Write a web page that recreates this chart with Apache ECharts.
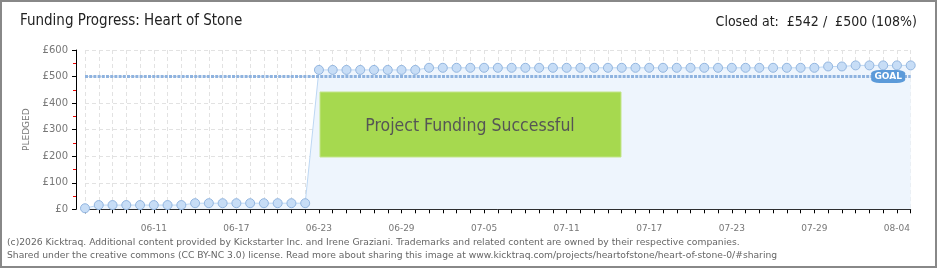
<!DOCTYPE html>
<html><head><meta charset="utf-8">
<script src="https://cdn.jsdelivr.net/npm/echarts@6/dist/echarts.min.js"></script>
<style>html,body{margin:0;padding:0;background:#fff}#c{width:940px;height:270px}</style>
</head><body><div id="c"></div>
<script>
const dates = ['06-06','06-07','06-08','06-09','06-10','06-11','06-12','06-13','06-14','06-15','06-16','06-17','06-18','06-19','06-20','06-21','06-22','06-23','06-24','06-25','06-26','06-27','06-28','06-29','06-30',
'07-01','07-02','07-03','07-04','07-05','07-06','07-07','07-08','07-09','07-10','07-11','07-12','07-13','07-14','07-15','07-16','07-17','07-18','07-19','07-20','07-21','07-22','07-23','07-24','07-25','07-26','07-27','07-28','07-29','07-30','07-31',
'08-01','08-02','08-03','08-04','08-05'];
const pledged = [4,16,16,16,16,16,16,16,23,23,23,23,23,23,23,23,23,
525,525,525,525,525,525,525,525,
533,533,533,533,533,533,533,533,533,533,533,533,533,533,533,533,533,533,533,533,533,533,533,533,533,533,533,533,533,
538,538,542,542,542,542,542];
const goal = 500;
const yTicks = [0,100,200,300,400,500,600];
const titleText = 'Funding Progress: Heart of Stone';
const closedText = 'Closed at:  £542 /  £500 (108%)';
const footer1 = '(c)2026 Kicktraq. Additional content provided by Kickstarter Inc. and Irene Graziani. Trademarks and related content are owned by their respective companies.';
const footer2 = 'Shared under the creative commons (CC BY-NC 3.0) license. Read more about sharing this image at www.kicktraq.com/projects/heartofstone/heart-of-stone-0/#sharing';

const chart = echarts.init(document.getElementById('c'), null, {renderer:'canvas'});
const lblFont = 'DejaVu Sans';
const headFont = '"DejaVu Sans Condensed", "Liberation Sans Narrow", "Liberation Sans", sans-serif';
chart.setOption({
  animation:false,
  backgroundColor:'#fff',
  grid:{left:85, right:29.3, top:50, bottom:60.7, containLabel:false},
  xAxis:{
    type:'category', data:dates, boundaryGap:false, offset:11,
    axisLine:{lineStyle:{color:'#000', width:1}},
    axisTick:{interval:0, length:4, lineStyle:{color:'#000'}},
    axisLabel:{interval:(i)=> (i-5)%6===0 && i>=5, margin:4, fontSize:9, color:'#777', fontFamily:lblFont},
    splitLine:{show:true, interval:0, lineStyle:{color:'#e2e2e2', type:[4,3]}}
  },
  yAxis:{
    type:'value', min:yTicks[0], max:yTicks[yTicks.length-1], interval:100, offset:9,
    name:'PLEDGED', nameLocation:'middle', nameRotate:90, nameGap:40,
    nameTextStyle:{fontSize:9, color:'#777', fontFamily:lblFont},
    axisLine:{show:true, lineStyle:{color:'#000'}},
    axisTick:{show:true, length:4, lineStyle:{color:'#000'}},
    minorTick:{show:true, splitNumber:2, length:3, lineStyle:{color:'#e00'}},
    axisLabel:{formatter:'£{value}', margin:8, fontSize:10, color:'#777', fontFamily:lblFont},
    splitLine:{show:true, lineStyle:{color:'#e2e2e2', type:[4,3]}}
  },
  series:[{
    type:'line', data:pledged, symbol:'circle', symbolSize:9, z:2,
    lineStyle:{color:'#bdd7f3', width:1},
    itemStyle:{color:'#c7ddf6', borderColor:'#93b6e0', borderWidth:1},
    areaStyle:{color:'#eef5fd', opacity:1}
  },{
    type:'line', data:[], z:3, silent:true,
    markLine:{
      silent:true, symbol:'none',
      lineStyle:{color:'#8fb3df', width:3, type:[3,1.2]},
      label:{show:false},
      data:[{yAxis:goal}]
    },
    markPoint:{
      silent:true,
      data:[{coord:['08-03', goal], symbol:'roundRect', symbolSize:[34,13], symbolOffset:[5,0],
        itemStyle:{color:'#5b9ad9'},
        label:{show:true, formatter:'GOAL', color:'#fff', fontSize:9, fontFamily:lblFont, fontWeight:'bold'}}]
    }
  }],
  graphic:[
    {type:'rect', shape:{x:1, y:1, width:935, height:266}, style:{fill:'none', stroke:'#888', lineWidth:2}, z:100},
    {type:'text', left:20, top:14, style:{text:titleText, font:'15px ' + headFont, fill:'#222'}},
    {type:'text', right:23, top:15, style:{text:closedText, font:'14px ' + headFont, fill:'#222'}},
    {type:'rect', shape:{x:320, y:92, width:301, height:65}, style:{fill:'#a6d94f', stroke:'#c3e58a', lineWidth:1}, z:50},
    {type:'text', x:470, y:126, z:51, style:{text:'Project Funding Successful', font:'17.5px ' + headFont, fill:'#555', textAlign:'center', textVerticalAlign:'middle', textShadowColor:'#fff', textShadowOffsetX:1, textShadowOffsetY:1, textShadowBlur:0}},
    {type:'text', x:7, y:243, style:{text:footer1, font:'9.2px "DejaVu Sans"', fill:'#666', textVerticalAlign:'middle'}},
    {type:'text', x:7, y:256, style:{text:footer2, font:'9.2px "DejaVu Sans"', fill:'#666', textVerticalAlign:'middle'}}
  ]
});
</script></body></html>
